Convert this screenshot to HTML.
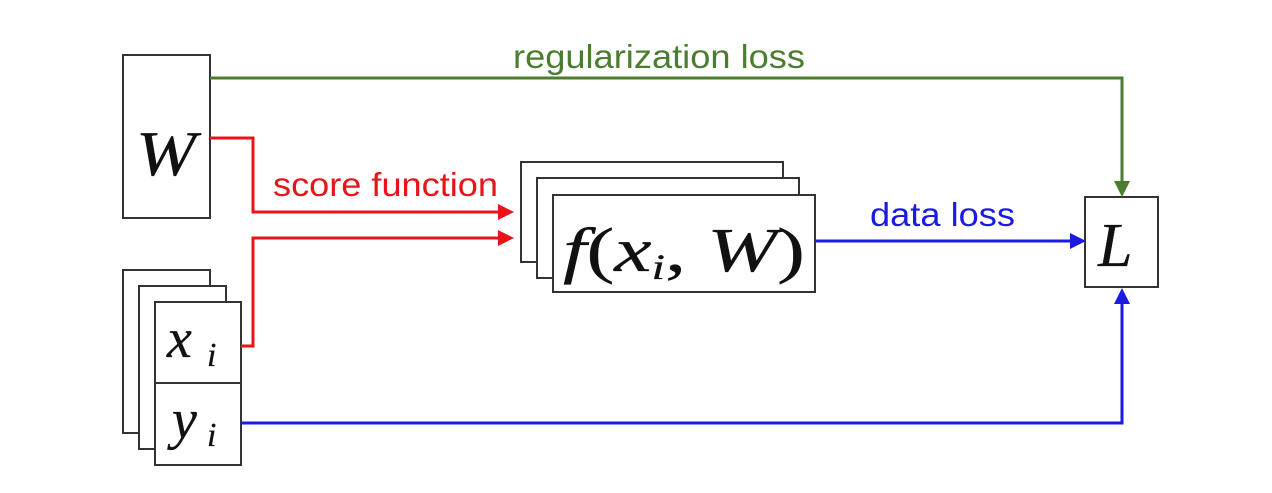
<!DOCTYPE html>
<html><head><style>
html,body{margin:0;padding:0;background:#fff;width:1272px;height:493px;overflow:hidden}
</style></head><body>
<svg width="1272" height="493" xmlns="http://www.w3.org/2000/svg">
<g fill="#fff" stroke="#333" stroke-width="2">
<rect x="123" y="55" width="87" height="163"/>
<rect x="123" y="270" width="87" height="163"/>
<rect x="139" y="286" width="87" height="163"/>
<rect x="155" y="302" width="86" height="163"/>
<line x1="155" y1="383" x2="241" y2="383"/>
<rect x="521" y="162" width="262" height="100"/>
<rect x="537" y="178" width="262" height="100"/>
<rect x="553" y="195" width="262" height="97"/>
<rect x="1085" y="197" width="73" height="90"/>
</g>
<g fill="none" stroke-width="3">
<polyline points="210,78 1122,78 1122,186" stroke="#4b7d30"/>
<polyline points="210,138 253,138 253,212 500,212" stroke="#e8141a"/>
<polyline points="241,346 253,346 253,238 500,238" stroke="#e8141a"/>
<line x1="815" y1="241" x2="1073" y2="241" stroke="#1a1ae0"/>
<polyline points="241,423 1122,423 1122,298" stroke="#1a1ae0"/>
</g>
<path d="M498,204 L514,212 L498,220z" fill="#e8141a"/>
<path d="M498,230 L514,238 L498,246z" fill="#e8141a"/>
<path d="M1070,233 L1086,241 L1070,249z" fill="#1a1ae0"/>
<path d="M1114,181 L1122,197 L1130,181z" fill="#4b7d30"/>
<path d="M1114,304 L1122,288 L1130,304z" fill="#1a1ae0"/>
<g font-family="Liberation Sans, sans-serif" font-size="33">
<text x="513" y="68" textLength="292" lengthAdjust="spacingAndGlyphs" fill="#4b7d30">regularization loss</text>
<text x="273" y="196" textLength="225" lengthAdjust="spacingAndGlyphs" fill="#e8141a">score function</text>
<text x="870" y="226" textLength="145" lengthAdjust="spacingAndGlyphs" fill="#1a1ae0">data loss</text>
</g>
<g font-family="Liberation Serif, serif" font-style="italic" fill="#111" stroke="#111" stroke-width="0.3">
<text x="136" y="175" font-size="64" textLength="60" lengthAdjust="spacingAndGlyphs">W</text>
<text x="167" y="357" font-size="56">x</text><text x="207" y="366" font-size="34">i</text>
<text x="172" y="438" font-size="56">y</text><text x="207" y="446" font-size="34">i</text>
<text x="563" y="271" font-size="62" textLength="242" lengthAdjust="spacingAndGlyphs"><tspan>f</tspan><tspan font-style="normal">(</tspan>x<tspan font-size="36" dy="8">i</tspan><tspan dy="-8" font-style="normal">, </tspan>W<tspan font-style="normal">)</tspan></text>
<text x="1098" y="266" font-size="62">L</text>
</g>
</svg>
</body></html>
